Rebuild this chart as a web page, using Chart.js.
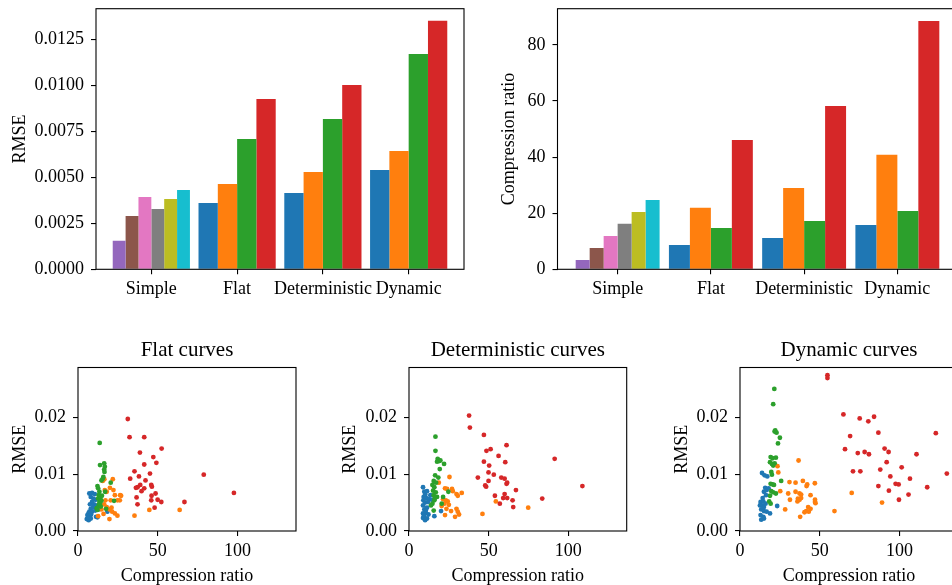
<!DOCTYPE html>
<html>
<head>
<meta charset="utf-8">
<script src="https://cdn.jsdelivr.net/npm/chart.js@4.4.1/dist/chart.umd.min.js"></script>
<style>
  html, body { margin: 0; padding: 0; background: #fff; width: 952px; height: 585px; overflow: hidden; position: relative; }
  canvas { position: absolute; }
</style>
</head>
<body>
<canvas id="barRmse" width="480" height="310" style="left:0;top:0"></canvas>
<canvas id="barRatio" width="490" height="310" style="left:480px;top:0"></canvas>
<canvas id="flat" width="320" height="255" style="left:0;top:330px"></canvas>
<canvas id="det" width="320" height="255" style="left:320px;top:330px"></canvas>
<canvas id="dyn" width="340" height="255" style="left:640px;top:330px"></canvas>
<script>
// ---- data ----
const groups = ["Simple", "Flat", "Deterministic", "Dynamic"];

// simple methods (C4..C9), only in the "Simple" group
const rmseSimple = [0.00155, 0.0029, 0.00393, 0.00328, 0.00382, 0.00431];
const ratioSimple = [3.3, 7.6, 11.9, 16.2, 20.4, 24.7];
// curve methods (C0..C3) for Flat / Deterministic / Dynamic
const rmseC0 = [null, 0.0036, 0.00415, 0.0054];
const rmseC1 = [null, 0.00464, 0.00529, 0.00643];
const rmseC2 = [null, 0.00708, 0.00817, 0.0117];
const rmseC3 = [null, 0.00926, 0.01002, 0.0135];
const ratioC0 = [null, 8.7, 11.2, 15.8];
const ratioC1 = [null, 21.9, 29.0, 40.8];
const ratioC2 = [null, 14.7, 17.2, 20.8];
const ratioC3 = [null, 46.1, 58.2, 88.5];

const rmseTicks = [0, 0.0025, 0.005, 0.0075, 0.01, 0.0125];
const ratioTicks = [0, 20, 40, 60, 80];
const scatterXTicks = [0, 50, 100];
const scatterYTicks = [0, 0.01, 0.02];

// scatter points [compression ratio, RMSE]
const flatC0 = [[7.1,0.0066],[8.8,0.0067],[10.5,0.0065],[8,0.006],[9.6,0.0057],[11,0.0055],[8.8,0.0051],[7.5,0.0047],[10,0.0047],[12,0.0045],[8,0.0039],[9.5,0.0042],[7.1,0.0034],[8.8,0.0034],[6.5,0.0031],[5.9,0.0028],[7.1,0.0026],[8.2,0.0029],[5.5,0.0021],[6.7,0.0019],[7.5,0.0023],[8,0.0022],[6.2,0.0024],[11.3,0.0025],[12.2,0.0024],[18.4,0.0034],[13,0.0038],[10.8,0.0036]];
const flatC1 = [[21.8,0.0091],[16.5,0.0091],[16.8,0.0072],[18,0.0069],[22.2,0.0072],[23.1,0.0063],[26.4,0.0063],[27,0.0062],[20.5,0.0054],[24.7,0.0054],[26.2,0.0054],[17.2,0.0054],[16.4,0.0047],[18,0.0042],[21,0.0041],[19.7,0.0038],[21.4,0.0034],[23.1,0.0031],[24.7,0.0027],[12.6,0.0026],[14.7,0.0038],[16,0.003],[35.4,0.0027],[19.7,0.0021],[44.7,0.0037],[63.7,0.0037],[15.5,0.0088],[20,0.0076]];
const flatC2 = [[13.6,0.0155],[13.8,0.0116],[16.4,0.0119],[16.8,0.0113],[16.4,0.0108],[16.6,0.0104],[14.7,0.0089],[15.5,0.0092],[15.9,0.0095],[20.5,0.0085],[12.2,0.0079],[12.6,0.0075],[13.4,0.0069],[13,0.0063],[12.6,0.0057],[13.4,0.0051],[13,0.0046],[14.3,0.0043],[11.7,0.004],[12.2,0.0037],[14,0.0057],[14.7,0.0053],[17,0.0069],[22.6,0.0053],[17.6,0.0039],[13.8,0.0048],[15,0.0062]];
const flatC3 = [[31.2,0.0197],[32.3,0.0165],[41.5,0.0165],[52.4,0.0145],[38.8,0.0138],[47.2,0.013],[49.1,0.012],[41.5,0.0117],[35.4,0.0105],[45.1,0.0101],[78.8,0.0099],[32.7,0.0092],[38.2,0.0096],[42.3,0.0089],[36.3,0.0076],[37.3,0.0077],[39,0.0081],[41.5,0.0075],[39.8,0.007],[45.9,0.0081],[46.3,0.0078],[48.6,0.0066],[97.7,0.0067],[36.7,0.0059],[46.1,0.0062],[45.9,0.0054],[49.9,0.0055],[52.2,0.0051],[37.3,0.0047],[66.7,0.0051],[48,0.0041]];

const detC0 = [[8.8,0.0077],[9.6,0.0069],[11.3,0.007],[9.2,0.006],[10.9,0.0058],[12.6,0.0056],[13.4,0.0063],[10.1,0.005],[8.8,0.0045],[9.6,0.0038],[11.3,0.0041],[8.8,0.0031],[10.5,0.0032],[8.8,0.0023],[10.1,0.0019],[11.3,0.0022],[12.2,0.0029],[9.4,0.0027],[10.5,0.0036],[12,0.0051],[14.5,0.0055],[20.1,0.0035],[15.9,0.0026],[9,0.0054],[10.2,0.0064]];
const detC1 = [[25.4,0.0095],[18.7,0.0085],[22.6,0.0075],[23.9,0.0074],[27,0.0074],[27.5,0.007],[29.8,0.0065],[33.1,0.0067],[30.6,0.0062],[21.4,0.0056],[23.1,0.0054],[24.3,0.0052],[22.2,0.0048],[20.5,0.0044],[23.5,0.0039],[26.4,0.0035],[29.8,0.0039],[30.6,0.0034],[28.9,0.0025],[31.4,0.0029],[22.6,0.0028],[54.5,0.0052],[46.1,0.003],[74.8,0.0041],[25,0.0046]];
const detC2 = [[16.6,0.0166],[16.6,0.0141],[18,0.0127],[18.9,0.0123],[17.6,0.0122],[19.7,0.0124],[22,0.0118],[19.3,0.0109],[16.4,0.0098],[18.4,0.0094],[24.7,0.0069],[15.5,0.0088],[14.7,0.0081],[15.9,0.0077],[15.1,0.0071],[16.8,0.0068],[15.5,0.0063],[17.6,0.006],[15.9,0.0054],[14.7,0.0048],[13.8,0.0045],[15.5,0.0036],[21.4,0.006],[20.5,0.0048],[17,0.0085],[16.2,0.0057]];
const detC3 = [[37.7,0.0203],[38.2,0.0182],[47,0.0169],[48.6,0.0141],[51.2,0.0144],[61.2,0.0151],[56.2,0.0132],[47,0.0122],[60.4,0.0121],[50.3,0.0115],[49.9,0.0103],[53.2,0.0099],[43.2,0.0094],[57.9,0.0094],[60,0.0092],[49.9,0.0088],[47.8,0.008],[48.4,0.0078],[61.2,0.0083],[61.6,0.0085],[67.1,0.0072],[91.4,0.0127],[108.8,0.0079],[53.9,0.0062],[60,0.0065],[59.1,0.0058],[61.6,0.0058],[65,0.0054],[57,0.0048],[65.4,0.0042],[83.6,0.0057]];

const dynC0 = [[13.8,0.0102],[15.4,0.0098],[17.1,0.0096],[15.8,0.0076],[16.7,0.0072],[15,0.0069],[17.9,0.0075],[16.3,0.0063],[12.9,0.0051],[14.6,0.0052],[13.8,0.0045],[15,0.0042],[13.3,0.0038],[15,0.0035],[16.7,0.0034],[12.9,0.0028],[14.6,0.0025],[13.3,0.002],[15,0.0022],[18.8,0.0031],[23.3,0.0044],[14.2,0.0058],[16,0.0048],[12.5,0.0045]];
const dynC1 = [[36.7,0.0124],[24,0.0103],[31,0.0086],[34.8,0.0085],[39.4,0.0088],[42.1,0.0082],[41.7,0.0079],[46.9,0.0084],[25.2,0.007],[30.2,0.0066],[34.8,0.0069],[37.3,0.0066],[38.3,0.0064],[44.2,0.0063],[31.3,0.0055],[36.3,0.0057],[37.3,0.0055],[38.3,0.0058],[36,0.0052],[47,0.0055],[47,0.0051],[47.3,0.0049],[42.7,0.0042],[44.2,0.0039],[41.5,0.0035],[43.1,0.0034],[40.4,0.0033],[28.3,0.0038],[37.7,0.0025],[59.2,0.0035],[70,0.0067],[89,0.005],[23.5,0.0114]];
const dynC2 = [[21.5,0.025],[20.8,0.0223],[22.1,0.0177],[22.9,0.0173],[21.7,0.0175],[25,0.0164],[23.8,0.0154],[19.2,0.013],[20.4,0.0128],[22.5,0.0129],[18.8,0.0121],[20,0.0118],[21.7,0.0119],[20.8,0.0115],[19.6,0.0104],[20,0.0099],[25.8,0.0088],[19.2,0.0083],[20.4,0.0082],[21.3,0.0081],[19.6,0.007],[20.8,0.0068],[22.5,0.0066],[18.8,0.0062],[18.3,0.0052],[19.2,0.0048]];
const dynC3 = [[54.8,0.0274],[54.8,0.0269],[64.8,0.0205],[75,0.0198],[80.4,0.0193],[84,0.0201],[86.7,0.0173],[122.7,0.0172],[69,0.0167],[65.8,0.0144],[90.6,0.0145],[93.1,0.0139],[73.8,0.0137],[78.1,0.0139],[80.8,0.0135],[110.6,0.0135],[91.9,0.0121],[70.8,0.0105],[75.4,0.0105],[87.9,0.0108],[101.3,0.0112],[94.2,0.0096],[106.5,0.0092],[129.6,0.0101],[86.7,0.0079],[97.5,0.0083],[99.4,0.0082],[93.3,0.0071],[117.3,0.0077],[105.6,0.0064],[99.6,0.0055]];

// ---- styling helpers ----
const tab = ["#1f77b4", "#ff7f0e", "#2ca02c", "#d62728", "#9467bd", "#8c564b", "#e377c2", "#7f7f7f", "#bcbd22", "#17becf"];
const FAMILY = "'Liberation Serif', 'DejaVu Serif', serif";
const tickFont = { family: FAMILY, size: 18, lineHeight: 1 };
const titleFont = { family: FAMILY, size: 18, lineHeight: 1 };
const tickGrid = { offset: false, drawOnChartArea: false, drawTicks: true, tickLength: 5, color: "#000", lineWidth: 1.1 };

Chart.defaults.color = "#000";
Chart.defaults.animation = false;

const frame = {
  id: "frame",
  afterDatasetsDraw(chart) {
    const { ctx, chartArea: a } = chart;
    ctx.save();
    ctx.strokeStyle = "#000";
    ctx.lineWidth = 1.1;
    ctx.strokeRect(a.left, a.top, a.right - a.left, a.bottom - a.top);
    ctx.restore();
  }
};

function fixedTicks(values) {
  return (s) => { s.ticks = values.map((v) => ({ value: v })); };
}

// one bar per method and group; null where a method is not in the group
function barSeries(values, offset, color) {
  return {
    data: groups.map((g, i) => ({ x: i, y: offset === null ? values[i] : (i === 0 ? values : null) })),
    backgroundColor: color,
    borderWidth: 0,
    barPercentage: 1,
    categoryPercentage: 0.9,
    skipNull: true
  };
}

function barDatasets(simple, c0, c1, c2, c3) {
  const sets = simple.map((v, k) => barSeries(v, k, tab[4 + k]));
  [c0, c1, c2, c3].forEach((arr, k) => sets.push(barSeries(arr, null, tab[k])));
  return sets;
}

function barChart(id, datasets, yMax, yTicks, fmt, yTitle, yWidth, yTitlePad, padRight) {
  new Chart(document.getElementById(id), {
    type: "bar",
    data: { datasets },
    plugins: [frame],
    options: {
      responsive: false,
      devicePixelRatio: 1,
      layout: { padding: { top: 8.7, right: padRight, left: 0, bottom: 0 } },
      plugins: { legend: { display: false }, tooltip: { enabled: false } },
      scales: {
        x: {
          type: "linear", min: -0.645, max: 3.645, offset: false,
          afterBuildTicks: fixedTicks([0, 1, 2, 3]),
          afterFit: (s) => { s.height = 40.7; s.paddingLeft = 0; s.paddingRight = 0; },
          ticks: { callback: (v) => groups[v], font: tickFont, padding: 6, maxRotation: 0, autoSkip: false },
          grid: tickGrid, border: { display: false }
        },
        y: {
          min: 0, max: yMax,
          afterBuildTicks: fixedTicks(yTicks),
          afterFit: (s) => { s.width = yWidth; s.paddingTop = 0; s.paddingBottom = 0; },
          ticks: { callback: fmt, font: tickFont, padding: 7 },
          title: { display: true, text: yTitle, font: titleFont, padding: { top: yTitlePad, bottom: 0 } },
          grid: tickGrid, border: { display: false }
        }
      }
    }
  });
}

barChart("barRmse", barDatasets(rmseSimple, rmseC0, rmseC1, rmseC2, rmseC3),
  0.01416, rmseTicks, (v) => v.toFixed(4), "RMSE", 96, 11, 16);
barChart("barRatio", barDatasets(ratioSimple, ratioC0, ratioC1, ratioC2, ratioC3),
  92.9, ratioTicks, (v) => String(v), "Compression ratio", 77.5, 20.7, 12.5);

function scatterChart(id, title, series, yWidth, yTitlePad, padRight) {
  new Chart(document.getElementById(id), {
    type: "scatter",
    data: {
      datasets: series.map((pts, k) => ({
        data: pts.map((p) => ({ x: p[0], y: p[1] })),
        backgroundColor: tab[k],
        borderWidth: 0,
        pointRadius: 2.4,
        order: 3 - k
      }))
    },
    plugins: [frame],
    options: {
      responsive: false,
      devicePixelRatio: 1,
      layout: { padding: { top: 0, right: padRight, left: 0, bottom: 0 } },
      plugins: {
        legend: { display: false },
        tooltip: { enabled: false },
        title: {
          display: true, text: title, fullSize: false, color: "#000",
          font: { family: FAMILY, size: 21, lineHeight: 1, weight: "normal" },
          padding: { top: 9.5, bottom: 7 }
        }
      },
      scales: {
        x: {
          type: "linear", min: 0, max: 136.6,
          afterBuildTicks: fixedTicks(scatterXTicks),
          afterFit: (s) => { s.height = 54; s.paddingLeft = 0; s.paddingRight = 0; },
          ticks: { callback: (v) => String(v), font: tickFont, padding: 6, maxRotation: 0 },
          title: { display: true, text: "Compression ratio", font: titleFont, padding: { top: 0, bottom: 0 } },
          grid: tickGrid, border: { display: false }
        },
        y: {
          min: 0, max: 0.02876,
          afterBuildTicks: fixedTicks(scatterYTicks),
          afterFit: (s) => { s.width = yWidth; s.paddingTop = 0; s.paddingBottom = 0; },
          ticks: { callback: (v) => v.toFixed(2), font: tickFont, padding: 7 },
          title: { display: true, text: "RMSE", font: titleFont, padding: { top: yTitlePad, bottom: 0 } },
          grid: tickGrid, border: { display: false }
        }
      }
    }
  });
}

scatterChart("flat", "Flat curves", [flatC0, flatC1, flatC2, flatC3], 78, 11, 24);
scatterChart("det", "Deterministic curves", [detC0, detC1, detC2, detC3], 89, 21.7, 13.3);
scatterChart("dyn", "Dynamic curves", [dynC0, dynC1, dynC2, dynC3], 100, 33.3, 22);
</script>
</body>
</html>
